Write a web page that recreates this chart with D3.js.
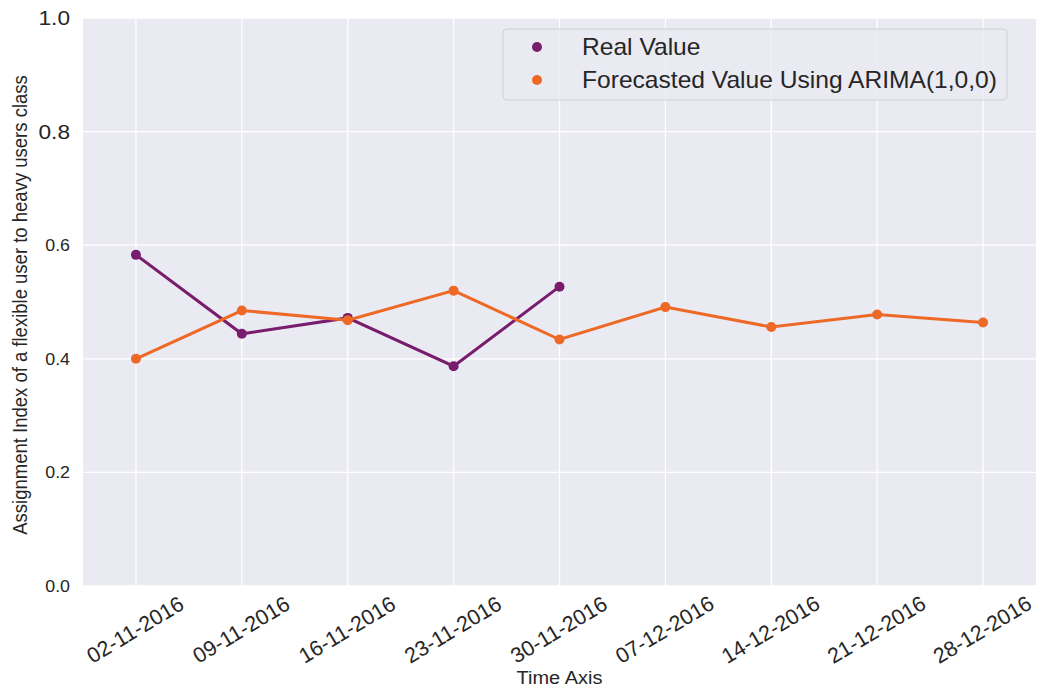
<!DOCTYPE html>
<html><head><meta charset="utf-8">
<script src="https://cdn.jsdelivr.net/npm/d3@7"></script>
<style>body{margin:0;background:#fff}svg{display:block;font-family:"Liberation Sans",Arial,sans-serif}</style>
</head><body><svg id="c" width="1041" height="691"></svg>
<script>
const categories = ["02-11-2016","09-11-2016","16-11-2016","23-11-2016","30-11-2016","07-12-2016","14-12-2016","21-12-2016","28-12-2016"];
const realValues = [0.583, 0.444, 0.472, 0.387, 0.527];
const forecastValues = [0.400, 0.485, 0.468, 0.520, 0.434, 0.491, 0.456, 0.478, 0.464];
const yTicks = [0.0, 0.2, 0.4, 0.6, 0.8, 1.0];
const seriesNames = ["Real Value", "Forecasted Value Using ARIMA(1,0,0)"];
const colors = ["#781c6d", "#ed6925"];

const svg = d3.select("#c");
const L = 83, R = 1036, T = 18, B = 586;
const SX = 1.08;
const x = d3.scaleLinear().domain([-0.5, categories.length - 0.5]).range([L, R]);
const y = d3.scaleLinear().domain([0, 1]).range([B, T]);
const txt = "#262626";

svg.append("rect").attr("x", L).attr("y", T).attr("width", R - L).attr("height", B - T).attr("fill", "#eaeaf2");

// grid
svg.append("g").selectAll("line").data(categories).join("line")
  .attr("x1", (d, i) => x(i)).attr("x2", (d, i) => x(i)).attr("y1", T).attr("y2", B)
  .attr("stroke", "#fff").attr("stroke-width", 1.3);
svg.append("g").selectAll("line").data(yTicks).join("line")
  .attr("x1", L).attr("x2", R).attr("y1", d => y(d)).attr("y2", d => y(d))
  .attr("stroke", "#fff").attr("stroke-width", 1.3);

// y axis
const ya = svg.append("g").attr("transform", `translate(${L},0)`)
  .call(d3.axisLeft(y).tickValues(yTicks).tickFormat(d3.format(".1f")).tickSize(0).tickPadding(0));
ya.select(".domain").remove();
ya.selectAll("text")
  .attr("font-size", d => d >= 0.8 ? 21 : 16.5).attr("fill", txt)
  .attr("font-family", "Liberation Sans, Arial, sans-serif")
  .attr("x", null).attr("transform", `translate(-13,0) scale(${SX},1)`);

// x axis
const xa = svg.append("g").attr("transform", `translate(0,${B})`)
  .call(d3.axisBottom(x).tickValues(d3.range(categories.length)).tickFormat(i => categories[i]).tickSize(0));
xa.select(".domain").remove();
xa.selectAll("text")
  .attr("font-size", 21.5).attr("fill", txt).attr("font-family", "Liberation Sans, Arial, sans-serif")
  .attr("text-anchor", "middle").attr("dy", null).attr("y", null)
  .attr("dominant-baseline", "central")
  .attr("transform", "translate(-1,44) rotate(-31)");

// axis titles
svg.append("text").attr("transform", `translate(${(L + R) / 2 + 0},684) scale(${SX},1)`).attr("text-anchor", "middle")
  .attr("font-size", 18.5).attr("fill", txt).text("Time Axis");
svg.append("text").attr("transform", `translate(27,${305}) rotate(-90) scale(1,${SX})`).attr("text-anchor", "middle")
  .attr("font-size", 18.5).attr("fill", txt).text("Assignment Index of a flexible user to heavy users class");

// lines
const line = d3.line().x((d, i) => x(i)).y(d => y(d));
[realValues, forecastValues].forEach((vals, k) => {
  svg.append("path").datum(vals).attr("d", line).attr("fill", "none")
    .attr("stroke", colors[k]).attr("stroke-width", 3);
  svg.append("g").selectAll("circle").data(vals).join("circle")
    .attr("cx", (d, i) => x(i)).attr("cy", d => y(d)).attr("r", 5).attr("fill", colors[k]);
});

// legend
const lg = svg.append("g");
lg.append("rect").attr("x", 503).attr("y", 29).attr("width", 504).attr("height", 71).attr("rx", 4)
  .attr("fill", "#eaeaf2").attr("fill-opacity", 0.8).attr("stroke", "#d0d0d8").attr("stroke-width", 1);
seriesNames.forEach((n, k) => {
  const cy = 47 + k * 33;
  lg.append("circle").attr("cx", 537).attr("cy", cy).attr("r", 5).attr("fill", colors[k]);
  lg.append("text").attr("transform", `translate(582,${cy}) scale(1.07,1)`).attr("dominant-baseline", "central")
    .attr("font-size", 23).attr("fill", txt).text(n);
});
</script></body></html>
